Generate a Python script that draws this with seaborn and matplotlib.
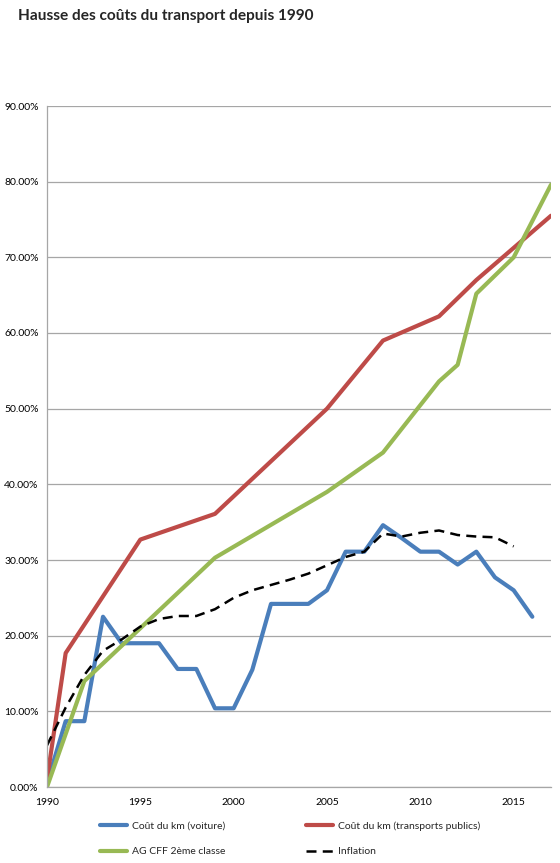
import numpy as np
import pandas as pd
import matplotlib
matplotlib.use("Agg")
import matplotlib.pyplot as plt
import seaborn as sns
from matplotlib.ticker import FuncFormatter

# données (en %)
annees_voiture = list(range(1990, 2017))
voiture = [0.5, 8.7, 8.7, 22.5, 19.0, 19.0, 19.0, 15.6, 15.6, 10.4, 10.4, 15.5, 24.2, 24.2,
           24.2, 26.0, 31.1, 31.1, 34.6, 32.9, 31.1, 31.1, 29.4, 31.1, 27.7, 26.0, 22.5]

annees_tp = [1990, 1991, 1995, 1999, 2005, 2008, 2011, 2013, 2017]
transports_publics = [1.0, 17.7, 32.7, 36.1, 50.0, 59.0, 62.2, 67.0, 75.5]

annees_ag = [1990, 1992, 1999, 2005, 2008, 2011, 2012, 2013, 2015, 2017]
ag_cff = [0.0, 14.0, 30.3, 39.0, 44.2, 53.6, 55.8, 65.2, 70.0, 79.6]

annees_inflation = list(range(1990, 2016))
inflation = [5.5, 10.5, 14.8, 18.0, 19.5, 21.2, 22.2, 22.6, 22.6, 23.5, 25.0, 26.0, 26.7,
             27.4, 28.2, 29.3, 30.4, 31.1, 33.5, 33.1, 33.6, 33.9, 33.3, 33.1, 33.0, 31.8]

labels = ["Coût du km (voiture)", "Coût du km (transports publics)",
          "AG CFF 2ème classe", "Inflation"]

sns.set_style("white")
plt.rcParams["font.family"] = ["Lato", "DejaVu Sans"]

fig = plt.figure(figsize=(5.6, 8.63), dpi=100)
ax = fig.add_axes([47 / 560, 1 - 787 / 863, 504 / 560, (787 - 106) / 863])

bleu = "#4a7ebb"
rouge = "#be4b48"
vert = "#98b954"

sns.lineplot(x=annees_voiture, y=voiture, ax=ax, color=bleu, linewidth=3, label=labels[0])
sns.lineplot(x=annees_tp, y=transports_publics, ax=ax, color=rouge, linewidth=3, label=labels[1])
sns.lineplot(x=annees_ag, y=ag_cff, ax=ax, color=vert, linewidth=3, label=labels[2])
sns.lineplot(x=annees_inflation, y=inflation, ax=ax, color="black", linewidth=1.8,
             label=labels[3], dashes=False)
ax.lines[-1].set_dashes([4, 2.5])

ax.set_xlim(1990, 2017)
ax.set_ylim(0, 90)
ax.set_xticks(range(1990, 2016, 5))
ax.set_yticks(range(0, 91, 10))
ax.yaxis.set_major_formatter(FuncFormatter(lambda v, p: "%.2f%%" % v))

ax.grid(axis="y", color="#a6a6a6", linewidth=0.9)
ax.grid(axis="x", visible=False)
for s in ["top", "right"]:
    ax.spines[s].set_visible(False)
for s in ["left", "bottom"]:
    ax.spines[s].set_color("#a6a6a6")
    ax.spines[s].set_linewidth(0.9)
ax.tick_params(axis="both", direction="out", length=4, width=0.9, color="#a6a6a6",
               labelsize=7.5, labelcolor="black", pad=2)
ax.tick_params(axis="x", pad=4)

h, l = ax.get_legend_handles_labels()
ax.get_legend().remove()
order = [0, 2, 1, 3]
fig.legend([h[i] for i in order], [l[i] for i in order], ncol=2, frameon=False,
           loc="center", bbox_to_anchor=(0.518, 1 - 839 / 863), fontsize=7.5,
           handlelength=2.6, handletextpad=0.5, columnspacing=7.7, labelspacing=1.55)

fig.text(18 / 560, 1 - 16 / 863, "Hausse des coûts du transport depuis 1990",
         fontsize=11.1, fontweight="bold", va="center", ha="left")

fig.savefig("out.png", dpi=100)
